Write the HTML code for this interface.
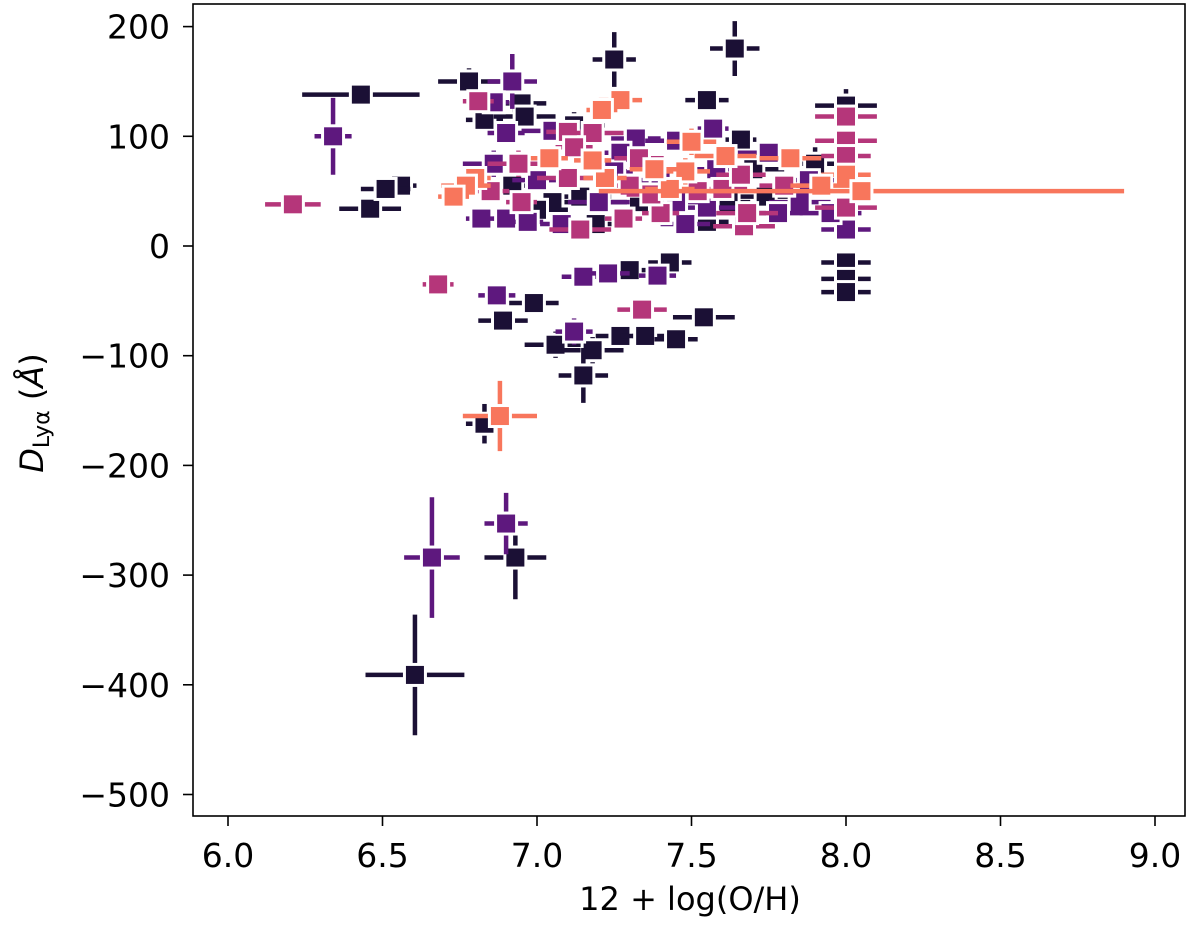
<!DOCTYPE html>
<html><head><meta charset="utf-8">
<style>
html,body{margin:0;padding:0;background:#fff;}
svg text{font-family:"DejaVu Sans","Liberation Sans",sans-serif;fill:#000;}
</style></head>
<body>
<svg id="chart" width="1200" height="930" viewBox="0 0 1200 930" xmlns="http://www.w3.org/2000/svg">
<g id="marks"></g>
<rect x="193" y="4" width="992" height="812" fill="none" stroke="#000" stroke-width="1.6"/>
<g id="xticks"></g>
<g id="yticks"></g>
<text x="690" y="910" font-size="32" text-anchor="middle">12 + log(O/H)</text>
<text transform="translate(43,413) rotate(-90)" font-size="32" text-anchor="middle"><tspan font-style="italic">D</tspan><tspan font-size="22" dy="6">Lyα</tspan><tspan dy="-6"> (</tspan><tspan font-style="italic">Å</tspan>)</text>
</svg>
<script>
const xTicks=[6.0,6.5,7.0,7.5,8.0,8.5,9.0];
const xTickLabels=["6.0","6.5","7.0","7.5","8.0","8.5","9.0"];
const yTicks=[200,100,0,-100,-200,-300,-400,-500];
const yTickLabels=["200","100","0","\u2212100","\u2212200","\u2212300","\u2212400","\u2212500"];
const palette=["#1b1035","#5e187e","#b5367a","#f8765c"];
// [x, y, xerr, yerr, colorIndex]
const points=[
[6.605,-391,0.16,55,0],[6.66,-284,0.09,55,1],[6.93,-284,0.1,38,0],[6.90,-253,0.07,28,1],
[6.83,-162,0.06,18,0],[6.88,-155,0.12,32,3],
[6.68,-35,0.05,8,2],[6.87,-45,0.06,10,1],[6.89,-68,0.08,10,0],[6.99,-52,0.08,8,0],
[7.15,-28,0.07,10,1],[7.23,-25,0.07,10,1],[7.30,-22,0.08,8,0],[7.39,-27,0.06,8,1],[7.43,-15,0.07,8,0],
[7.34,-58,0.08,10,2],[7.06,-90,0.1,12,0],[7.12,-78,0.06,12,1],[7.18,-95,0.1,12,0],[7.27,-82,0.08,10,0],
[7.35,-82,0.08,10,0],[7.45,-85,0.07,10,0],[7.54,-65,0.1,10,0],[7.15,-118,0.08,25,0],
[8.00,-15,0.08,8,0],[8.00,-30,0.08,8,0],[8.00,-42,0.08,8,0],
[6.21,38,0.09,6,2],[6.34,100,0.06,35,1],[6.43,138,0.19,6,0],[6.46,34,0.1,6,0],[6.56,55,0.05,10,0],[6.51,52,0.08,8,0],
[7.25,170,0.07,25,0],[7.64,180,0.08,25,0],
[6.78,150,0.1,12,0],[6.92,150,0.08,25,1],[6.81,132,0.05,10,2],[6.86,131,0.05,10,1],[6.95,130,0.08,12,0],
[6.83,115,0.06,10,0],[6.90,103,0.06,10,1],[6.96,118,0.1,8,0],[7.05,105,0.1,10,1],[7.10,104,0.07,10,2],
[7.18,103,0.1,10,2],[7.12,110,0.1,12,0],[7.55,133,0.07,8,0],[7.32,98,0.08,10,1],[7.45,96,0.1,8,1],
[7.57,107,0.05,8,1],[7.66,97,0.05,10,0],[7.75,85,0.1,8,1],[7.70,70,0.1,10,0],[7.90,75,0.1,15,0],
[8.00,128,0.1,15,0],[8.00,118,0.1,10,2],[8.00,96,0.1,10,2],[8.00,82,0.08,10,2],[8.00,35,0.1,10,2],
[8.00,15,0.08,10,1],[7.85,40,0.1,10,1],[7.78,30,0.08,10,1],[7.67,18,0.1,10,2],[7.55,35,0.1,10,1],
[7.60,52,0.08,10,2],[7.30,55,0.1,10,2],[7.10,62,0.1,10,2],[7.00,60,0.08,10,1],[6.94,75,0.1,12,2],
[6.86,75,0.1,12,1],[6.85,50,0.06,10,2],[6.92,55,0.05,10,0],[6.82,25,0.05,10,1],[6.90,25,0.06,10,1],
[6.97,22,0.05,10,1],[7.08,20,0.07,10,1],[7.14,15,0.1,10,2],[7.19,20,0.07,10,0],[7.28,25,0.06,10,2],
[7.33,40,0.1,10,0],[7.40,30,0.06,10,2],[7.48,20,0.08,10,1],[7.55,22,0.07,10,0],[7.68,30,0.1,8,2],
[7.74,45,0.1,8,0],[7.66,65,0.08,10,2],[7.52,50,0.08,10,2],[7.37,47,0.08,8,2],[7.20,40,0.1,10,1],
[7.14,45,0.1,10,0],[7.05,40,0.08,10,0],[7.00,33,0.1,8,0],[6.95,40,0.05,10,2],[7.33,80,0.08,10,2],
[7.27,85,0.07,10,1],[7.12,90,0.06,10,2],[7.40,60,0.1,10,1],[7.58,70,0.08,10,1],[7.88,60,0.1,8,1],
[7.95,30,0.1,8,1],[7.45,40,0.08,10,1],[7.62,40,0.07,10,0],[7.25,68,0.06,10,1],[7.80,55,0.08,10,2],
[7.27,133,0.07,8,3],[7.21,124,0.05,10,3],[7.50,95,0.08,12,3],[7.61,82,0.1,10,3],[7.82,80,0.1,10,3],
[8.00,65,0.08,10,3],[7.92,55,0.1,10,3],[7.48,68,0.08,12,3],[7.43,52,0.08,10,3],[7.38,70,0.08,10,3],
[7.22,62,0.07,10,3],[7.18,78,0.06,10,3],[7.04,80,0.06,10,3],[6.80,62,0.05,10,3],[6.77,55,0.08,10,3],
[6.73,45,0.05,10,3],[8.05,50,0.85,8,3]
];
const NS="http://www.w3.org/2000/svg";
function sx(v){return 228+(v-6)*309;}
function sy(v){return 246-v*1.097;}
function mk(tag,attrs,parent){const e=document.createElementNS(NS,tag);for(const k in attrs)e.setAttribute(k,attrs[k]);parent.appendChild(e);return e;}
const xg=document.getElementById('xticks');
xTicks.forEach((t,i)=>{
  const l=mk('line',{x1:sx(t),x2:sx(t),y1:816,y2:826,stroke:'#000','stroke-width':1.6},xg);
  
  
  const tx=mk('text',{x:sx(t),y:867,'font-size':33,'text-anchor':'middle'},xg);
  tx.textContent=xTickLabels[i];
  
  
});
const yg=document.getElementById('yticks');
yTicks.forEach((t,i)=>{
  const l=mk('line',{x1:183,x2:193,y1:sy(t),y2:sy(t),stroke:'#000','stroke-width':1.6},yg);
  
  
  const tx=mk('text',{x:170,y:sy(t)+12,'font-size':33,'text-anchor':'end'},yg);
  tx.textContent=yTickLabels[i];
  
  
});
const g=document.getElementById('marks');
const order=points.map((p,i)=>i).sort((a,b)=>points[a][4]-points[b][4]||a-b);
order.forEach(i=>{
  const [x,y,xe,ye,c]=points[i];
  const col=palette[c];
  const pg=mk('g',{},g);
  
  
  mk('line',{x1:sx(x-xe),x2:sx(x+xe),y1:sy(y),y2:sy(y),stroke:col,'stroke-width':4.5},pg);
  mk('line',{x1:sx(x),x2:sx(x),y1:sy(y-ye),y2:sy(y+ye),stroke:col,'stroke-width':4.5},pg);
  mk('rect',{x:sx(x)-12,y:sy(y)-12,width:24,height:24,fill:'#fff'},pg);
  mk('rect',{x:sx(x)-9,y:sy(y)-9,width:18,height:18,fill:col},pg);
});
</script>
</body></html>
